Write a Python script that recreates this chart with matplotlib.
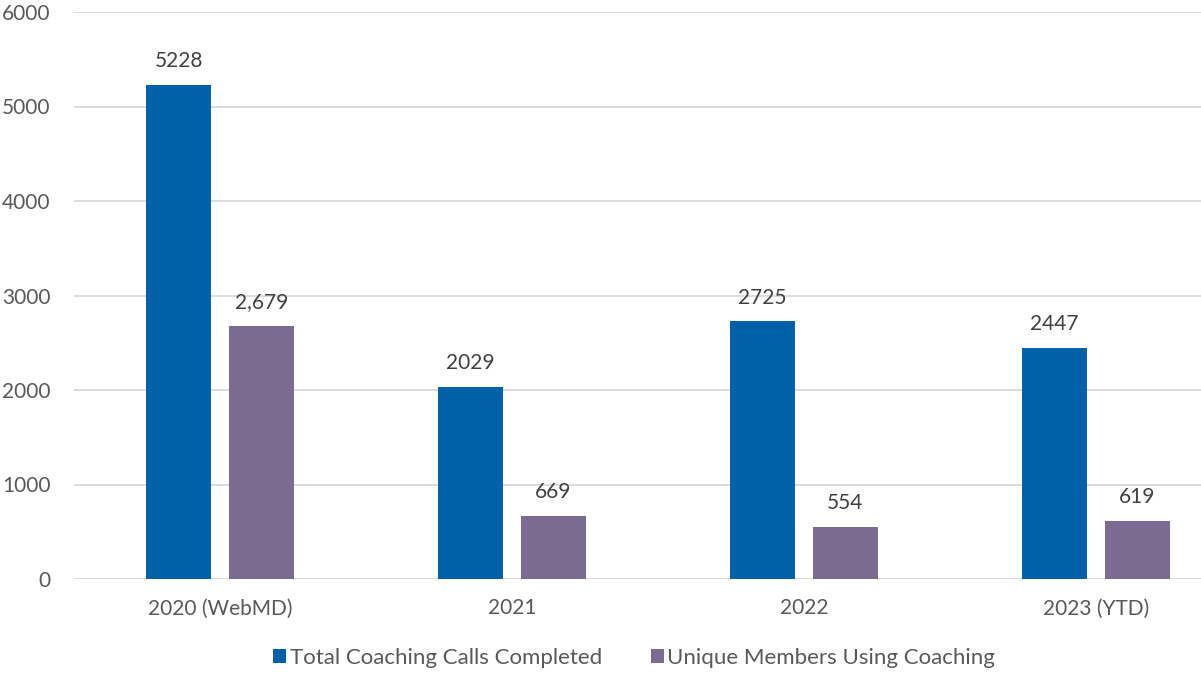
import numpy as np
import matplotlib.pyplot as plt

plt.rcParams['font.family'] = ['Lato', 'DejaVu Sans']

categories = ['2020 (WebMD)', '2021', '2022', '2023 (YTD)']
total_calls = [5228, 2029, 2725, 2447]
unique_members = [2679, 669, 554, 619]
unique_labels = ['2,679', '669', '554', '619']

blue = '#0060A8'
purple = '#7B6A91'
grid = '#D9D9D9'

fig = plt.figure(figsize=(12.01, 6.73), dpi=100)
ax = fig.add_axes([74 / 1201, 94 / 673, 1168 / 1201, 567 / 673])

x = np.arange(len(categories))
w = 0.2226
off = 0.142
b1 = ax.bar(x - off, total_calls, w, color=blue, label='Total Coaching Calls Completed', zorder=3)
b2 = ax.bar(x + off, unique_members, w, color=purple, label='Unique Members Using Coaching', zorder=3)

for bar, v in zip(b1, total_calls):
    ax.annotate(str(v), (bar.get_x() + bar.get_width() / 2, v), xytext=(0, 10),
                textcoords='offset points', ha='center', va='bottom', fontsize=15, color='#404040')
for bar, v, t in zip(b2, unique_members, unique_labels):
    ax.annotate(t, (bar.get_x() + bar.get_width() / 2, v), xytext=(0, 10),
                textcoords='offset points', ha='center', va='bottom', fontsize=15, color='#404040')

ax.set_xlim(-0.5, 3.5)
ax.set_ylim(0, 6000)
ax.set_yticks(range(0, 6001, 1000))
ax.set_xticks(x)
ax.set_xticklabels(categories)
ax.yaxis.grid(True, color=grid, linewidth=1.3, zorder=0)
ax.set_axisbelow(True)
for s in ax.spines.values():
    s.set_visible(False)
ax.tick_params(axis='both', length=0, labelsize=15, labelcolor='#595959')
ax.tick_params(axis='x', pad=14)
ax.tick_params(axis='y', pad=17)

fig.legend(handles=[b1, b2], loc='center', bbox_to_anchor=(0.528, 0.022), ncol=2, frameon=False,
           fontsize=16, labelcolor='#595959', handlelength=0.6, handleheight=0.6,
           handletextpad=0.15, columnspacing=2.2)

fig.savefig('out.png', dpi=100)
